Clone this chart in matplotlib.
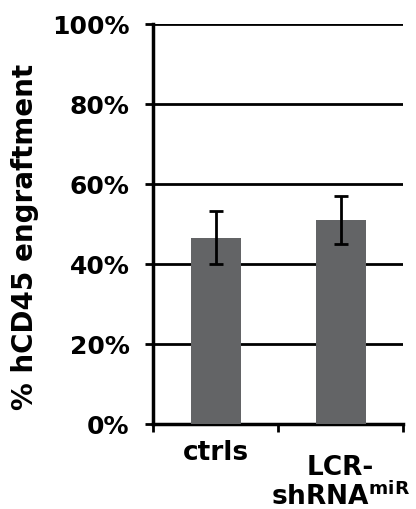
import numpy as np
import matplotlib
matplotlib.use("Agg")
from matplotlib import pyplot as plt
from matplotlib.transforms import blended_transform_factory

plt.rcParams['font.family'] = 'DejaVu Sans'
plt.rcParams['font.weight'] = 'bold'
plt.rcParams['mathtext.fontset'] = 'custom'
plt.rcParams['mathtext.rm'] = 'DejaVu Sans:bold'
plt.rcParams['mathtext.bf'] = 'DejaVu Sans:bold'

categories = ['ctrls', 'LCR-\nshRNA$^{\\mathrm{miR}}$']
means = [46.6, 51.0]
errs = [6.6, 5.9]
yticks = [0, 20, 40, 60, 80, 100]
ytick_labels = ['0%', '20%', '40%', '60%', '80%', '100%']

fig = plt.figure(figsize=(4.16, 5.10), dpi=100)
ax = fig.add_axes([0.368, 0.1667, 0.601, 0.7843])

x = np.arange(len(categories))
ax.bar(x, means, width=0.4, color='#636466', zorder=3)
ax.errorbar(x, means, yerr=errs, fmt='none', ecolor='black', elinewidth=2,
            capsize=5, capthick=2, zorder=4)

for t in yticks[1:]:
    ax.axhline(t, color='black', lw=2, zorder=1)

ax.set_xlim(-0.5, 1.5)
ax.set_ylim(0, 100)
ax.set_yticks(yticks)
ax.set_yticklabels(ytick_labels, fontsize=18, fontweight='bold')
ax.set_xticks([-0.5, 0.5, 1.5])
ax.set_xticklabels([])
ax.tick_params(axis='x', length=6, width=2)
ax.tick_params(axis='y', length=6, width=2, pad=11)

# category labels, placed line by line to follow the reference
tr = blended_transform_factory(ax.transData, fig.transFigure)
label_lines = [(0, 'ctrls', 460), (1, 'LCR-', 475), (1, 'shRNA$^{\\mathrm{miR}}$', 505)]
for xi, txt, base_px in label_lines:
    ax.text(xi, 1 - base_px / 510, txt, transform=tr, ha='center',
            va='baseline', fontsize=19, fontweight='bold')

for s in ['top', 'right']:
    ax.spines[s].set_visible(False)
for s in ['left', 'bottom']:
    ax.spines[s].set_linewidth(2.5)

fig.text(0.06, 0.535, '% hCD45 engraftment', rotation=90, fontsize=20,
         fontweight='bold', ha='center', va='center')

fig.savefig('out.png', dpi=100)
